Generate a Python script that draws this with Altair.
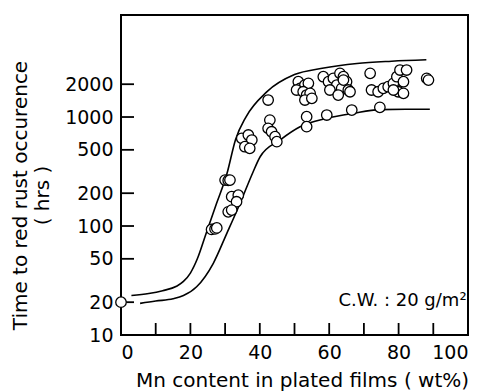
import altair as alt
import pandas as pd

# ---- data ----
pts_x = [0,
         26.1, 27.1, 27.6,
         30.0, 30.9, 31.4,
         31.9, 33.8, 33.3,
         30.9, 31.9,
         34.8, 36.7, 37.7, 35.7, 37.1,
         42.4,
         42.9, 42.4, 43.4, 44.4, 44.9,
         53.5, 53.5, 59.3, 66.5, 74.6,
         51.1, 51.6, 53.0, 54.0, 50.6, 52.5, 53.5, 54.5, 53.0, 55.0,
         58.3, 59.8, 61.2, 63.1, 64.1, 65.0, 62.2, 63.6, 65.5, 60.2, 62.6, 64.1, 66.0,
         71.8,
         72.2, 74.1, 75.6, 77.0, 78.5, 79.5, 80.4, 82.3, 81.4, 79.9, 81.4, 78.5,
         88.1, 88.6]
pts_y = [20,
         93, 94, 96,
         264, 262, 264,
         186, 192, 167,
         135, 140,
         638, 684, 615, 534, 516,
         1432,
         938, 788, 733, 660, 594,
         1007, 815, 1043, 1159, 1228,
         2108, 1833, 1966, 2037, 1770, 1706, 1591, 1649, 1432, 1484,
         2343, 2108, 2265, 2518, 2343, 2108, 1966, 1833, 1770, 1770, 1591, 2183, 1706,
         2518,
         1770, 1706, 1833, 1897, 2037, 2343, 2699, 2699, 2108, 1706, 1649, 1770,
         2265, 2183]

upper_x = [3, 8, 12, 16, 18, 20, 22, 24.5, 27.5, 30.5, 33, 36, 42, 50, 58, 68, 78, 88]
upper_y = [23, 24, 25.5, 28, 31, 37, 50, 85, 160, 300, 620, 1000, 1700, 2450, 2800, 3100, 3250, 3350]

lower_x = [5.5, 10, 15, 18, 21.8, 26.6, 30.5, 34.3, 38, 40.1, 45.8, 51.6, 59.3, 66.9, 74.6, 82, 89]
lower_y = [19.5, 20.5, 21.5, 23, 27.7, 45.5, 85.7, 161, 310, 432, 615, 815, 973, 1082, 1170, 1177, 1177]

x_labels = [0, 20, 40, 60, 80, 100]
x_ticks = [10, 20, 30, 40, 50, 60, 70, 80, 90]
y_labels = [10, 20, 50, 100, 200, 500, 1000, 2000]
y_ticks = [20, 50, 100, 200, 500, 1000, 2000]

note_text = ["C.W.  :  20 g/m²"]
note_x = [99.6]
note_y = [20.5]

W, H = 347, 320
FONT = "DejaVu Sans"
Y_MIN, Y_MAX = 10.0, 8630.0
# inward tick lengths expressed in data units (x: 347 px per 100 %; y: 109 px per decade)
XTICK_TOP = 10 ** (1 + 12 / 109.0)
YTICK_END = 13 * 100 / 347.0

xscale = alt.Scale(domain=[0, 100], nice=False, zero=False)
yscale = alt.Scale(type="log", domain=[Y_MIN, Y_MAX], nice=False)
xaxis = alt.Axis(values=x_labels, title="Mn content in plated films ( wt%)",
                 labelFlush=True, labelPadding=8, titlePadding=8, titleX=181)
yaxis = alt.Axis(values=y_labels, title=["Time to red rust occurence", "( hrs )"],
                 labelPadding=8, titlePadding=12, titleY=180, labelExpr="datum.value")

# curves plus inward tick segments (two rows per segment), all in one line layer
lx = [float(v) for v in upper_x + lower_x]
ly = [float(v) for v in upper_y + lower_y]
lid = ["upper"] * len(upper_x) + ["lower"] * len(lower_x)
lw = ["curve"] * len(lx)
for t in x_ticks:
    lx += [float(t), float(t)]
    ly += [Y_MIN, XTICK_TOP]
    lid += [f"xt{t}", f"xt{t}"]
    lw += ["tick", "tick"]
for t in y_ticks:
    lx += [0.0, YTICK_END]
    ly += [float(t), float(t)]
    lid += [f"yt{t}", f"yt{t}"]
    lw += ["tick", "tick"]
curves = pd.DataFrame({"x": lx, "y": ly, "curve": lid, "kind": lw})

pts = pd.DataFrame({"x": [float(v) for v in pts_x], "y": [float(v) for v in pts_y]})
note = pd.DataFrame({"x": note_x, "y": note_y, "t": note_text})

lines = alt.Chart(curves).mark_line(color="black", interpolate="monotone").encode(
    x=alt.X("x:Q", scale=xscale, axis=xaxis),
    y=alt.Y("y:Q", scale=yscale, axis=yaxis),
    detail="curve:N", order="x:Q",
    strokeWidth=alt.StrokeWidth("kind:N", scale=alt.Scale(domain=["curve", "tick"], range=[1.6, 1.8]),
                                legend=None))
points = alt.Chart(pts).mark_point(shape="circle", filled=False, fill="white", fillOpacity=1,
                                   stroke="black", strokeWidth=1.3, size=110, opacity=1).encode(
    x=alt.X("x:Q", scale=xscale), y=alt.Y("y:Q", scale=yscale))
text = alt.Chart(note).mark_text(align="right", baseline="middle", font=FONT, fontSize=18,
                                 color="black").encode(
    x=alt.X("x:Q", scale=xscale), y=alt.Y("y:Q", scale=yscale), text="t:N")

chart = alt.layer(lines, points, text).properties(
    width=W, height=H,
    autosize=alt.AutoSizeParams(type="none"),
    padding={"left": 121, "top": 15, "right": 10, "bottom": 57},
    background="white",
).configure_view(stroke="black", strokeWidth=2).configure_axis(
    domain=False, ticks=False, grid=False,
    labelFont=FONT, labelFontSize=19, labelColor="black",
    titleFont=FONT, titleFontSize=20, titleFontWeight="normal", titleColor="black",
    titleLineHeight=22,
)

chart.save("out.html", embed_options={"renderer": "svg", "actions": False})
